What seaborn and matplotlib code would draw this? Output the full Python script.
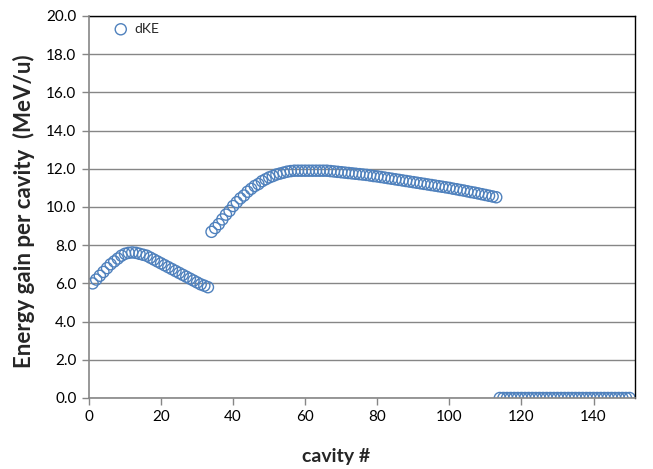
import matplotlib
matplotlib.use("Agg")
import matplotlib.pyplot as plt
import seaborn as sns
import pandas as pd

sns.set_style("white")
plt.rcParams['font.family'] = ['Lato', 'DejaVu Sans']

seg1 = [6.00, 6.20, 6.40, 6.60, 6.80, 7.00, 7.15, 7.30, 7.45, 7.55,
        7.60, 7.62, 7.60, 7.55, 7.50, 7.45, 7.35, 7.25, 7.15, 7.05,
        6.95, 6.85, 6.75, 6.65, 6.55, 6.45, 6.35, 6.25, 6.15, 6.05,
        5.95, 5.88, 5.80]
seg2 = [8.70, 8.90, 9.10, 9.35, 9.60, 9.80, 10.05, 10.25, 10.45, 10.60,
        10.80, 10.95, 11.10, 11.20, 11.35, 11.45, 11.55, 11.62, 11.70, 11.75,
        11.80, 11.85, 11.88, 11.90, 11.90, 11.90, 11.90, 11.90, 11.90, 11.90,
        11.90, 11.90, 11.90, 11.88, 11.86, 11.84, 11.82, 11.80, 11.78, 11.76,
        11.74, 11.72, 11.70, 11.68, 11.65, 11.62, 11.60, 11.57, 11.54, 11.51,
        11.48, 11.45, 11.42, 11.39, 11.36, 11.33, 11.30, 11.27, 11.24, 11.21,
        11.18, 11.15, 11.12, 11.09, 11.06, 11.03, 11.00, 10.96, 10.93, 10.89,
        10.86, 10.82, 10.78, 10.75, 10.71, 10.67, 10.63, 10.59, 10.55, 10.51]
seg3 = [0.0, 0.0, 0.0, 0.0, 0.0, 0.0, 0.0, 0.0, 0.0, 0.0,
        0.0, 0.0, 0.0, 0.0, 0.0, 0.0, 0.0, 0.0, 0.0, 0.0,
        0.0, 0.0, 0.0, 0.0, 0.0, 0.0, 0.0, 0.0, 0.0, 0.0,
        0.0, 0.0, 0.0, 0.0, 0.0, 0.0, 0.0]
dke = seg1 + seg2 + seg3
cavity = list(range(1, len(dke) + 1))

xticks = [0, 20, 40, 60, 80, 100, 120, 140]
yticks = [0, 2, 4, 6, 8, 10, 12, 14, 16, 18, 20]
ytick_labels = ["0.0", "2.0", "4.0", "6.0", "8.0", "10.0", "12.0", "14.0", "16.0", "18.0", "20.0"]

df = pd.DataFrame({"cavity": cavity, "dKE": dke})

fig = plt.figure(figsize=(6.53, 4.69), dpi=100)
ax = fig.add_axes([0.1363, 0.1514, 0.8361, 0.8145])

blue = "#4F81BD"
sns.scatterplot(data=df, x="cavity", y="dKE", ax=ax, marker="o", s=64,
                facecolors="none", edgecolors=blue, linewidth=1.0, label="dKE")

ax.set_xlim(0, 151.5)
ax.set_ylim(0, 20)
ax.set_xticks(xticks)
ax.set_yticks(yticks)
ax.set_yticklabels(ytick_labels)
ax.yaxis.grid(True, color="#868686", linewidth=1.0)
ax.set_axisbelow(True)

gray = "#868686"
for s in ["left", "bottom"]:
    ax.spines[s].set_color(gray)
    ax.spines[s].set_linewidth(1.2)
for s in ["top", "right"]:
    ax.spines[s].set_color("black")
    ax.spines[s].set_linewidth(1.0)
ax.spines["left"].set_zorder(3)
ax.spines["bottom"].set_zorder(3)

ax.tick_params(axis="both", which="major", direction="out", length=5, width=1,
               color=gray, labelsize=11, labelcolor="black", pad=4,
               left=True, bottom=True)

ax.set_xlabel("cavity #", fontsize=14, fontweight="bold", va="center", ha="center")
ax.set_ylabel("Energy gain per cavity  (MeV/u)", fontsize=16, fontweight="bold",
              va="center", ha="center")
ax.xaxis.set_label_coords(0.452, -0.154)
ax.yaxis.set_label_coords(-0.119, 0.49)

leg = ax.legend(loc="upper left", frameon=False, fontsize=10, handletextpad=0.0,
                borderaxespad=0.1, bbox_to_anchor=(0.02, 1.0))

fig.savefig("out.png", dpi=100)
